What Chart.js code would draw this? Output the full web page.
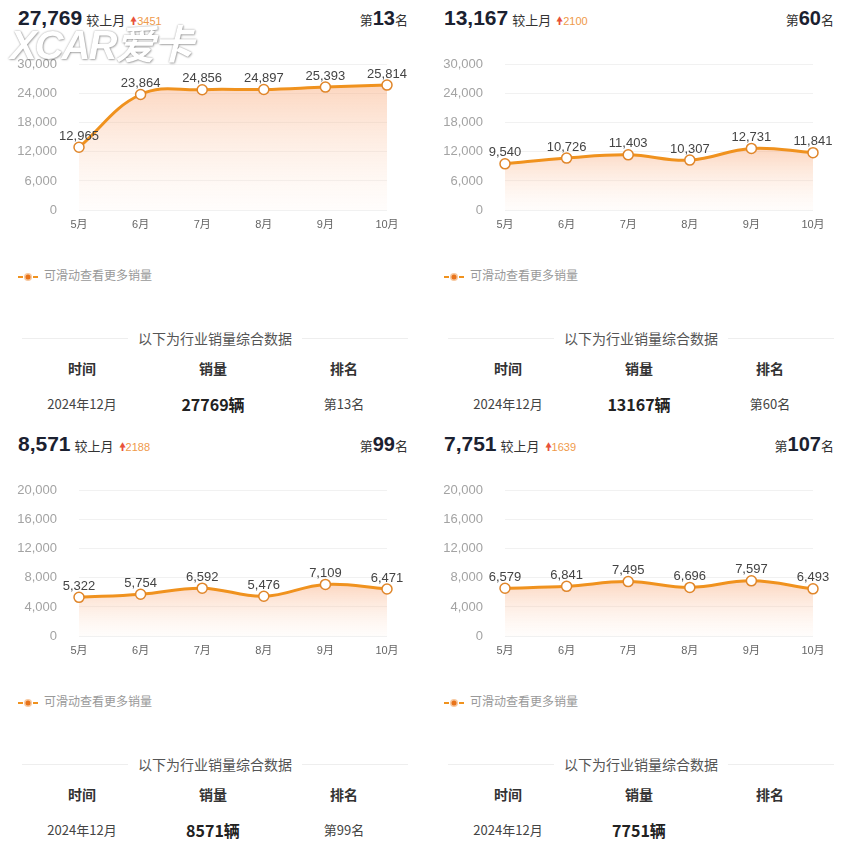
<!DOCTYPE html>
<html>
<head>
<meta charset="utf-8">
<script src="https://cdn.jsdelivr.net/npm/chart.js@4/dist/chart.umd.min.js"></script>
<style>
  html, body { margin: 0; padding: 0; background: #fff; }
  body { width: 852px; height: 852px; position: relative; overflow: hidden;
         font-family: "Liberation Sans", "Noto Sans CJK SC", sans-serif; color: #333; }
  .panel { position: absolute; width: 426px; height: 426px; }
  .panel canvas { position: absolute; left: 0; top: 35px; }
  .abs { position: absolute; white-space: nowrap; }
  .big { left: 18px; top: 4px; line-height: 28px; font-size: 21px; font-weight: bold; color: #1b2130; }
  .big .cmp { font-size: 13px; font-weight: normal; color: #333; margin-left: 4px; }
  .big .up { font-size: 11px; font-weight: normal; color: #e8513a; margin-left: 5px; }
  .big .up b { color: #ef9a4a; font-weight: normal; }
  .rank { right: 18px; top: 4px; line-height: 28px; font-size: 13px; color: #333; }
  .rank b { font-size: 20px; color: #1b2130; }
  .legend { left: 18px; top: 266px; line-height: 18px; font-size: 12px; color: #999; font-family: "Noto Sans CJK SC", sans-serif; }
  .legend canvas { position: static; vertical-align: middle; margin-right: 6px; }
  .sep { left: 22px; width: 386px; top: 328px; height: 20px; }
  .sep .ln { position: absolute; top: 10px; height: 1px; background: #eeeeee; width: 106px; }
  .sep span { position: absolute; left: 0; right: 0; text-align: center; line-height: 20px;
              font-size: 14px; color: #555; font-family: "Noto Sans CJK SC", sans-serif; }
  .cell { width: 130px; text-align: center; font-family: "Noto Sans CJK SC", sans-serif; }
  .th { top: 358px; line-height: 20px; font-size: 14px; font-weight: bold; color: #333; }
  .td { top: 393px; line-height: 22px; font-size: 13px; color: #444; }
  .td.sales { font-size: 16px; font-weight: bold; color: #222; }
  .wm { left: 10px; top: 22px; font-size: 40px; line-height: 46px; font-weight: bold; font-style: italic; color: #fff;
        text-shadow: 0 0 2px rgba(0,0,0,0.4), 1px 1px 2px rgba(0,0,0,0.25); letter-spacing: -2px; z-index: 5; }
</style>
</head>
<body>
<script>
const months = ['5月', '6月', '7月', '8月', '9月', '10月'];

const sales1 = [12965, 23864, 24856, 24897, 25393, 25814];
const sales2 = [9540, 10726, 11403, 10307, 12731, 11841];
const sales3 = [5322, 5754, 6592, 5476, 7109, 6471];
const sales4 = [6579, 6841, 7495, 6696, 7597, 6493];

const yMax = [30000, 30000, 20000, 20000];
const yStep = [6000, 6000, 4000, 4000];

const totals = ['27,769', '13,167', '8,571', '7,751'];
const changes = ['3451', '2100', '2188', '1639'];
const ranks = ['13', '60', '99', '107'];
const tableSales = ['27769辆', '13167辆', '8571辆', '7751辆'];
const tableRanks = ['第13名', '第60名', '第99名', ''];
const tableMonth = '2024年12月';

const seriesAll = [sales1, sales2, sales3, sales4];
const offsets = [[0, 0], [426, 0], [0, 426], [426, 426]];
const orange = '#f0921e';

// draws the number above each point
const pointLabels = {
    id: 'pointLabels',
    afterDatasetsDraw(chart) {
        const ctx = chart.ctx;
        const meta = chart.getDatasetMeta(0);
        ctx.save();
        ctx.font = '13px "Liberation Sans", sans-serif';
        ctx.fillStyle = '#444';
        ctx.textAlign = 'center';
        ctx.textBaseline = 'middle';
        meta.data.forEach((p, i) => {
            const v = chart.data.datasets[0].data[i];
            ctx.fillText(v.toLocaleString('en-US'), p.x, p.y - 11);
        });
        ctx.restore();
    }
};

function el(parent, cls, html, style) {
    const d = document.createElement('div');
    d.className = cls;
    d.innerHTML = html;
    if (style) Object.assign(d.style, style);
    parent.appendChild(d);
    return d;
}

function legendIcon() {
    const c = document.createElement('canvas');
    c.width = 20; c.height = 10;
    const g = c.getContext('2d');
    g.strokeStyle = orange; g.lineWidth = 2;
    g.beginPath(); g.moveTo(0, 5); g.lineTo(5, 5); g.moveTo(15, 5); g.lineTo(20, 5); g.stroke();
    g.fillStyle = '#f7c9a0';
    g.beginPath(); g.arc(10, 5, 4, 0, Math.PI * 2); g.fill();
    g.fillStyle = '#e8731a';
    g.beginPath(); g.arc(10, 5, 2.5, 0, Math.PI * 2); g.fill();
    return c;
}

seriesAll.forEach((data, k) => {
    const p = document.createElement('div');
    p.className = 'panel';
    p.style.left = offsets[k][0] + 'px';
    p.style.top = offsets[k][1] + 'px';
    document.body.appendChild(p);

    el(p, 'abs big', `${totals[k]}<span class="cmp">较上月</span><span class="up">&#x1F81D;<b>${changes[k]}</b></span>`);
    el(p, 'abs rank', `第<b>${ranks[k]}</b>名`);

    const canvas = document.createElement('canvas');
    canvas.width = 426; canvas.height = 205;
    canvas.style.width = '426px'; canvas.style.height = '205px';
    p.appendChild(canvas);

    const lg = el(p, 'abs legend', '');
    lg.appendChild(legendIcon());
    lg.appendChild(document.createTextNode('可滑动查看更多销量'));

    el(p, 'abs sep', '<div class="ln" style="left:0"></div><div class="ln" style="right:0"></div><span>以下为行业销量综合数据</span>');

    const cols = [17, 148, 279];
    ['时间', '销量', '排名'].forEach((t, i) => el(p, 'abs cell th', t, { left: cols[i] + 'px' }));
    el(p, 'abs cell td', tableMonth, { left: cols[0] + 'px' });
    el(p, 'abs cell td sales', tableSales[k], { left: cols[1] + 'px' });
    el(p, 'abs cell td', tableRanks[k], { left: cols[2] + 'px' });

    new Chart(canvas, {
        type: 'line',
        data: {
            labels: months,
            datasets: [{
                label: '可滑动查看更多销量',
                data,
                borderColor: orange,
                borderWidth: 3,
                tension: 0.4,
                fill: 'origin',
                clip: false,
                backgroundColor: (c) => {
                    const { chart } = c;
                    const area = chart.chartArea;
                    if (!area) return 'rgba(248,170,120,0.3)';
                    const top = chart.scales.y.getPixelForValue(Math.max(...data));
                    const g = chart.ctx.createLinearGradient(0, top, 0, area.bottom);
                    g.addColorStop(0, 'rgba(248,165,115,0.45)');
                    g.addColorStop(1, 'rgba(255,240,230,0.15)');
                    return g;
                },
                pointRadius: 5,
                pointBorderWidth: 1.5,
                pointBackgroundColor: '#fff',
                pointBorderColor: '#e0862a'
            }]
        },
        options: {
            responsive: false,
            animation: false,
            // top gap comes from the y ticks padding (22 + half label)
            layout: { padding: { top: 0, right: 39, left: 0, bottom: 0 } },
            plugins: { legend: { display: false }, tooltip: { enabled: false } },
            scales: {
                x: {
                    afterFit: s => { s.height = 30; },
                    grid: { display: false, drawTicks: false },
                    border: { display: false },
                    ticks: { padding: 8, color: '#666', font: { size: 11, family: '"Liberation Sans", "Noto Sans CJK SC"' } }
                },
                y: {
                    min: 0,
                    max: yMax[k],
                    afterFit: s => { s.width = 79; },
                    grid: { color: '#f1f1f1', drawTicks: false },
                    border: { display: false },
                    ticks: {
                        stepSize: yStep[k],
                        padding: 22,
                        color: '#a3a3a3',
                        font: { size: 13, family: '"Liberation Sans"' },
                        callback: v => v.toLocaleString('en-US')
                    }
                }
            }
        },
        plugins: [pointLabels]
    });
});

el(document.body, 'abs wm', 'XCAR爱卡');
</script>
</body>
</html>
